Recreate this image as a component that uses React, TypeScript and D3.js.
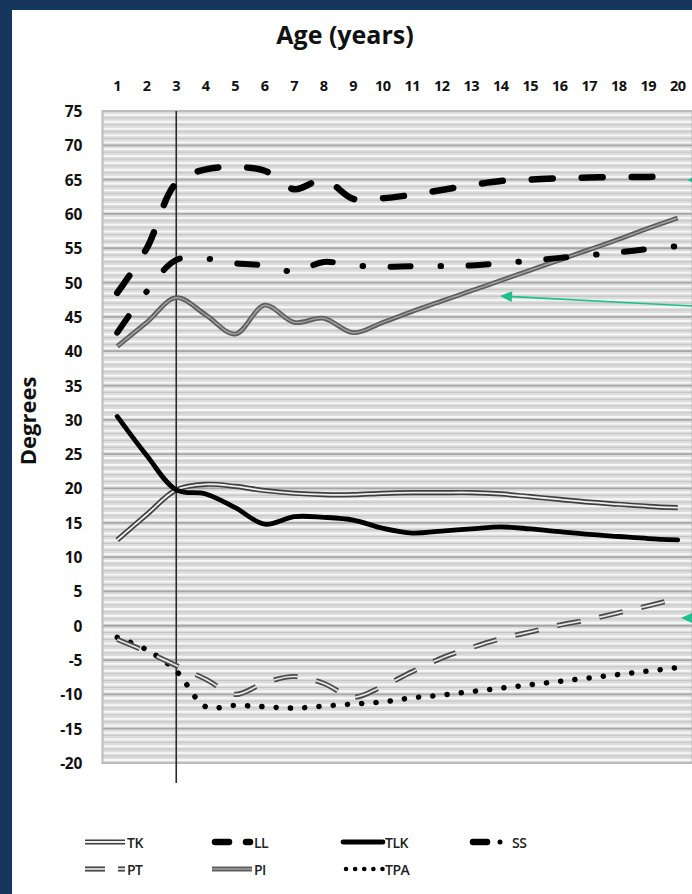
import React, { useEffect } from "react";
import * as d3 from "d3";

// ages on the top axis
const ages = [1, 2, 3, 4, 5, 6, 7, 8, 9, 10, 11, 12, 13, 14, 15, 16, 17, 18, 19, 20];
const yTicks = [75, 70, 65, 60, 55, 50, 45, 40, 35, 30, 25, 20, 15, 10, 5, 0, -5, -10, -15, -20];

// series values (degrees)
const TK = [12.5, 16.2, 19.8, 20.6, 20.3, 19.7, 19.3, 19.1, 19.1, 19.3, 19.4, 19.4, 19.4, 19.2, 18.8, 18.4, 18.0, 17.7, 17.4, 17.2];
const LL = [48.5, 55.0, 64.5, 66.5, 66.8, 66.3, 63.6, 65.0, 62.2, 62.3, 62.8, 63.5, 64.2, 64.8, 65.0, 65.2, 65.3, 65.4, 65.4, 65.5];
const TLK = [30.5, 24.8, 19.8, 19.2, 17.2, 14.8, 15.9, 15.8, 15.4, 14.2, 13.5, 13.8, 14.1, 14.4, 14.1, 13.7, 13.3, 13.0, 12.7, 12.5];
const SS = [42.7, 48.7, 53.3, 53.5, 52.8, 52.5, 51.6, 53.0, 52.5, 52.3, 52.4, 52.4, 52.5, 52.8, 53.2, 53.6, 54.0, 54.4, 54.9, 55.3];
const PT = [-2.0, -3.8, -5.8, -7.8, -10.0, -8.3, -7.4, -8.4, -10.4, -8.8, -6.7, -4.7, -3.2, -1.9, -0.9, 0.1, 0.9, 1.9, 2.9, 4.0];
const PI = [40.7, 44.2, 47.8, 45.3, 42.5, 46.7, 44.2, 44.8, 42.7, 44.2, 45.8, 47.3, 48.8, 50.3, 51.8, 53.3, 54.8, 56.3, 57.9, 59.4];
const TPA = [-1.7, -3.5, -6.6, -11.8, -11.6, -11.8, -12.0, -11.7, -11.4, -11.1, -10.5, -10.1, -9.6, -9.1, -8.6, -8.1, -7.6, -7.1, -6.6, -6.1];

const markerAge = 3;

const W = 692;
const H = 894;
const FONT = "'Open Sans', 'DejaVu Sans', sans-serif";
const NAVY = "#17365d";
const GREEN = "#1fc08e";

const x = d3.scaleLinear().domain([0.5, 20.5]).range([102.5, 692.5]);
const y = d3.scaleLinear().domain([-20, 75]).range([763, 111]);

const line = d3
  .line<number>()
  .x((_, i) => x(ages[i]))
  .y((d) => y(d))
  .curve(d3.curveCatmullRom.alpha(0.5));

type Style = {
  stroke: string;
  width: number;
  dash?: string;
  cap?: "round" | "butt";
  inner?: string; // compound (double) line
  innerWidth?: number;
};

const styles: Record<string, Style> = {
  TK: { stroke: "#3e3e3e", width: 5.2, inner: "#eeeeee", innerWidth: 1.8 },
  LL: { stroke: "#000", width: 6.5, dash: "21 29", cap: "round" },
  TLK: { stroke: "#000", width: 4.8, cap: "round" },
  SS: { stroke: "#000", width: 6, dash: "20 30 0.5 27.5", cap: "round" },
  PT: { stroke: "#4a4a4a", width: 5.2, dash: "24 19", inner: "#e6e6e6", innerWidth: 1.7 },
  PI: { stroke: "#5e5e5e", width: 4.8, inner: "#a0a0a0", innerWidth: 1.5 },
  TPA: { stroke: "#000", width: 5.5, dash: "0.1 14.2", cap: "round" },
};

const Stroke = ({ d, s }: { d: string; s: Style }) => (
  <g fill="none">
    <path d={d} stroke={s.stroke} strokeWidth={s.width} strokeDasharray={s.dash} strokeLinecap={s.cap || "butt"} strokeLinejoin="round" />
    {s.inner && (
      <path d={d} stroke={s.inner} strokeWidth={s.innerWidth} strokeDasharray={s.dash} strokeLinecap="butt" strokeLinejoin="round" />
    )}
  </g>
);

const Arrow = ({ x1, y1, x2, y2 }: { x1: number; y1: number; x2: number; y2: number }) => {
  const a = Math.atan2(y2 - y1, x2 - x1);
  const len = 12;
  const hw = 5.5;
  const bx = x2 - len * Math.cos(a);
  const by = y2 - len * Math.sin(a);
  const px = -Math.sin(a) * hw;
  const py = Math.cos(a) * hw;
  return (
    <g>
      <line x1={x1} y1={y1} x2={bx} y2={by} stroke={GREEN} strokeWidth={1.6} />
      <polygon points={`${x2},${y2} ${bx + px},${by + py} ${bx - px},${by - py}`} fill={GREEN} />
    </g>
  );
};

export default function App() {
  useEffect(() => {
    document.body.style.margin = "0";
  }, []);

  const minor = d3.range(-20, 76);
  const series: [string, number[]][] = [
    ["TPA", TPA],
    ["PT", PT],
    ["TK", TK],
    ["TLK", TLK],
    ["PI", PI],
    ["SS", SS],
    ["LL", LL],
  ];

  const legend1: [string, number][] = [["TK", 85], ["LL", 212], ["TLK", 343], ["SS", 470]];
  const legend2: [string, number][] = [["PT", 85], ["PI", 212], ["TPA", 343]];

  const legendSym = (key: string, lx: number, ly: number) => {
    const s = styles[key];
    const x1 = lx;
    const x2 = lx + 40;
    if (key === "LL")
      return (
        <g>
          <line x1={x1 + 3} x2={x1 + 17} y1={ly} y2={ly} stroke="#000" strokeWidth={6.5} strokeLinecap="round" />
          <line x1={x2 - 6} x2={x2 - 2} y1={ly} y2={ly} stroke="#000" strokeWidth={6.5} strokeLinecap="round" />
        </g>
      );
    if (key === "SS")
      return (
        <g>
          <line x1={x1 + 3} x2={x1 + 17} y1={ly} y2={ly} stroke="#000" strokeWidth={6.5} strokeLinecap="round" />
          <circle cx={x1 + 30} cy={ly} r={2.5} fill="#000" />
        </g>
      );
    if (key === "PT")
      return (
        <g>
          <Stroke d={`M${x1},${ly}H${x1 + 20}`} s={{ ...s, dash: undefined }} />
          <Stroke d={`M${x2 - 7},${ly}H${x2}`} s={{ ...s, dash: undefined }} />
        </g>
      );
    if (key === "TPA")
      return <Stroke d={`M${x1 + 3},${ly}H${x2}`} s={{ ...s, dash: "0.1 9", width: 4.5 }} />;
    return <Stroke d={`M${x1},${ly}H${x2}`} s={s} />;
  };

  return (
    <svg width={W} height={H} style={{ display: "block" }} fontFamily={FONT}>
      <rect width={W} height={H} fill={NAVY} />
      <rect x={12} y={10} width={W - 12} height={H - 10} fill="#fff" />

      <text x={345} y={44} textAnchor="middle" fontSize={25} fontWeight={700} fill="#111">
        Age (years)
      </text>

      {ages.map((a) => (
        <text key={a} x={x(a)} y={91} textAnchor="middle" fontSize={14.5} fontWeight={700} fill="#111" letterSpacing={-0.5}>
          {a}
        </text>
      ))}

      {yTicks.map((v) => (
        <text key={v} x={82} y={y(v) + 6} textAnchor="end" fontSize={15.5} fontWeight={700} fill="#111" letterSpacing={-0.3}>
          {v}
        </text>
      ))}

      <text transform="translate(36,421) rotate(-90)" textAnchor="middle" fontSize={22} fontWeight={700} fill="#111">
        Degrees
      </text>

      {/* plot area */}
      <rect x={x(0.5)} y={y(75)} width={x(20.5) - x(0.5)} height={y(-20) - y(75)} fill="#dddddd" />
      {minor.map((v) => (
        <g key={v}>
          {v < 75 && (
            <line x1={x(0.5)} x2={x(20.5)} y1={y(v) - 3} y2={y(v) - 3} stroke="#f8f8f8" strokeWidth={1.8} />
          )}
          <line
            x1={x(0.5)}
            x2={x(20.5)}
            y1={y(v)}
            y2={y(v)}
            stroke={v % 5 === 0 ? "#a6a6a6" : "#c4c4c4"}
            strokeWidth={v % 5 === 0 ? 1.8 : 1}
          />
        </g>
      ))}
      <rect
        x={x(0.5)}
        y={y(75)}
        width={x(20.5) - x(0.5)}
        height={y(-20) - y(75)}
        fill="none"
        stroke="#bcbcbc"
        strokeWidth={2}
      />

      <line x1={x(markerAge)} x2={x(markerAge)} y1={y(75)} y2={783} stroke="#2a2a2a" strokeWidth={1.6} />

      {series.map(([k, vals]) => (
        <Stroke key={k} d={line(vals) || ""} s={styles[k]} />
      ))}

      <Arrow x1={705} y1={180} x2={687} y2={180} />
      <Arrow x1={692} y1={306} x2={500} y2={296} />
      <Arrow x1={705} y1={618} x2={681} y2={618} />

      {legend1.map(([k, lx]) => (
        <g key={k}>
          {legendSym(k, lx, 842)}
          <text x={lx + 42} y={847.5} fontSize={14} fontWeight={600} fill="#222" letterSpacing={-0.5}>
            {k}
          </text>
        </g>
      ))}
      {legend2.map(([k, lx]) => (
        <g key={k}>
          {legendSym(k, lx, 869)}
          <text x={lx + 42} y={874.5} fontSize={14} fontWeight={600} fill="#222" letterSpacing={-0.5}>
            {k}
          </text>
        </g>
      ))}
    </svg>
  );
}
